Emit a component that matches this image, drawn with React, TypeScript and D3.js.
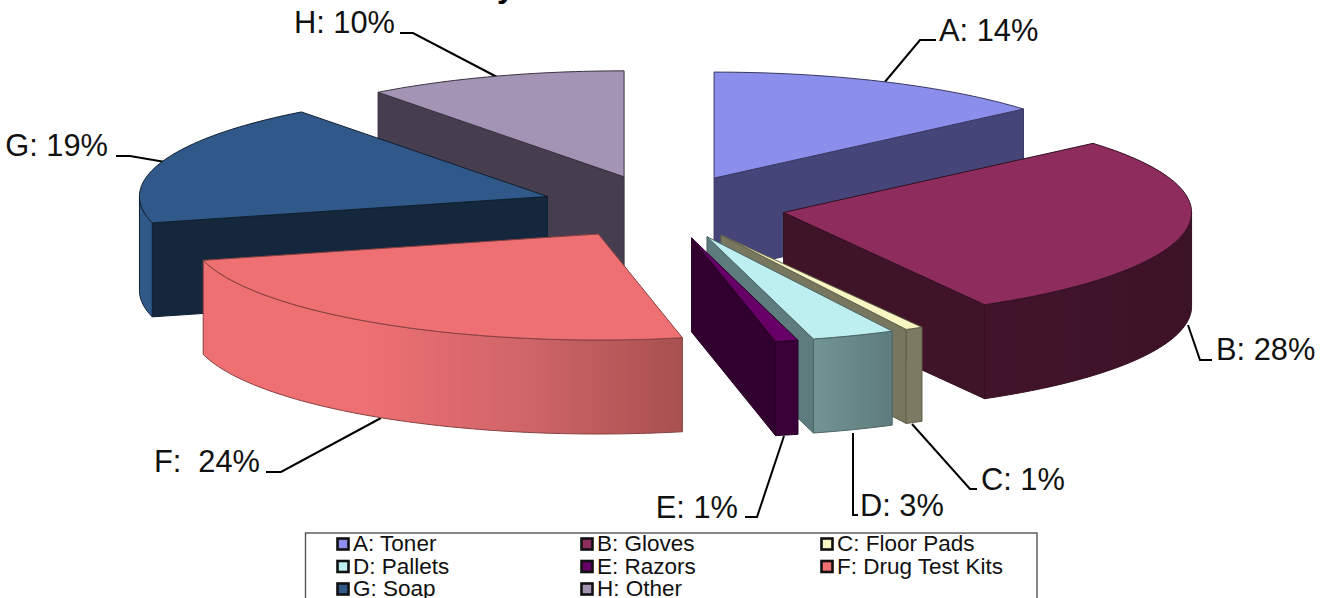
import React from "react";
import * as d3 from "d3";

const categories = ["A", "B", "C", "D", "E", "F", "G", "H"];
const names = ["Toner", "Gloves", "Floor Pads", "Pallets", "Razors", "Drug Test Kits", "Soap", "Other"];
const labelPercents = [14, 28, 1, 3, 1, 24, 19, 10];
const sliceShares = [13.7, 28.1, 0.7, 3.3, 0.9, 24.3, 18.7, 10.3];
const titleFragments = ["y", ",", ","];
const topColors = ["#8B8EEA", "#8E2C5E", "#F8F6C2", "#BDEEF0", "#660066", "#EE7073", "#30598A", "#A394B6"];
const wallColors = ["#46457A", "#3F1428", "#77775F", "#5E7C7D", "#32002F", "#A85050", "#14273D", "#463D4E"];
const rimStops = [
  ["#46457A", "#46457A"],
  ["#42142B", "#3C1227"],
  ["#7B7B63", "#7B7B63"],
  ["#729494", "#5E7C7D"],
  ["#3A0038", "#3A0038"],
  ["#EE7073", "#EE7073", "#D06568", "#A85050"],
  ["#30598A", "#30598A"],
  ["#46457A", "#46457A"],
];

const W = 1331, H = 598;
const cx = 663, cy = 207, rx = 408, ry = 106, depth = 94, explode = 0.3;

const leaderPoints: [number, number][][] = [
  [[884, 83], [920, 40], [936, 40]],
  [[1188, 325], [1200, 360], [1212, 360]],
  [[912, 424], [970, 489], [977, 489]],
  [[853, 433], [853, 515], [858, 515]],
  [[784, 436], [757, 517], [745, 517]],
  [[381, 418], [281, 472], [266, 472]],
  [[165, 162], [130, 156], [116, 156]],
  [[497, 77], [413, 33], [400, 33]],
];
const labelPos: [number, number, string][] = [
  [939, 41, "start"], [1216, 360, "start"], [981, 490, "start"], [860, 516, "start"],
  [738, 518, "end"], [260, 472, "end"], [108, 156, "end"], [395, 33, "end"],
];
const titlePos: [number, number][] = [[497, -3], [747, -5], [842, -5]];
const legendCols = [337, 581, 821];
const legendRows = [544, 566.5, 589];

const pie = d3.pie<number>().sort(null).startAngle(0).endAngle(2 * Math.PI);
const arcs = pie(sliceShares);
const line = d3.line<[number, number]>();

function pt(a: number, ox: number, oy: number, dy = 0): [number, number] {
  return [ox + rx * Math.sin(a), oy - ry * Math.cos(a) + dy];
}
function sweep(a0: number, a1: number, ox: number, oy: number, dy = 0) {
  const n = Math.max(2, Math.ceil(((a1 - a0) * 180) / Math.PI));
  return d3.range(n + 1).map((i) => pt(a0 + ((a1 - a0) * i) / n, ox, oy, dy));
}

const slices = arcs.map((d, i) => {
  const mid = (d.startAngle + d.endAngle) / 2;
  const ox = cx + explode * rx * Math.sin(mid);
  const oy = cy - explode * ry * Math.cos(mid);
  const top = [[ox, oy] as [number, number], ...sweep(d.startAngle, d.endAngle, ox, oy)];
  const walls: [number, number][][] = [];
  const s = pt(d.startAngle, ox, oy);
  const e = pt(d.endAngle, ox, oy);
  const quad = (p: [number, number]): [number, number][] => [
    [ox, oy], p, [p[0], p[1] + depth], [ox, oy + depth],
  ];
  if (s[0] < ox - 0.5) walls.push(quad(s));
  if (e[0] > ox + 0.5) walls.push(quad(e));
  const r0 = Math.max(d.startAngle, Math.PI / 2);
  const r1 = Math.min(d.endAngle, (3 * Math.PI) / 2);
  const rim = r1 > r0
    ? [...sweep(r0, r1, ox, oy), ...sweep(r0, r1, ox, oy, depth).reverse()]
    : null;
  const xs = rim ? (d3.extent(rim, (p) => p[0]) as [number, number]) : [0, 0];
  return { i, top, walls, rim, xs };
});
const drawOrder = [7, 0, 6, 1, 2, 3, 4, 5];

export default function App() {
  return (
    <svg
      width={W}
      height={H}
      viewBox={`0 0 ${W} ${H}`}
      style={{ position: "fixed", left: 0, top: 0, background: "#fff" }}
      fontFamily="'Liberation Sans', Arial, sans-serif"
    >
      <defs>
        {slices.map((s) =>
          s.rim ? (
            <linearGradient
              key={s.i}
              id={`rim${s.i}`}
              gradientUnits="userSpaceOnUse"
              x1={s.xs[0]}
              x2={s.xs[1]}
              y1={0}
              y2={0}
            >
              {rimStops[s.i].map((c, k) => (
                <stop key={k} offset={k / (rimStops[s.i].length - 1)} stopColor={c} />
              ))}
            </linearGradient>
          ) : null
        )}
      </defs>

      {titleFragments.map((t, i) => (
        <text key={i} x={titlePos[i][0]} y={titlePos[i][1]} fontSize={32} fontWeight="bold" fill="#000">
          {t}
        </text>
      ))}

      {leaderPoints.map((p, i) => (
        <path key={i} d={line(p) ?? ""} fill="none" stroke="#000" strokeWidth={2} />
      ))}

      {drawOrder.map((i) => {
        const s = slices[i];
        const edge = d3.color(wallColors[i])!.darker(0.6).formatHex();
        return (
          <g key={i} stroke={edge} strokeWidth={1} strokeLinejoin="round">
            {s.walls.map((w, k) => (
              <path key={k} d={(line(w) ?? "") + "Z"} fill={wallColors[i]} />
            ))}
            {s.rim && <path d={(line(s.rim) ?? "") + "Z"} fill={`url(#rim${i})`} />}
            <path d={(line(s.top) ?? "") + "Z"} fill={topColors[i]} />
          </g>
        );
      })}

      {categories.map((c, i) => (
        <text
          key={c}
          x={labelPos[i][0]}
          y={labelPos[i][1]}
          textAnchor={labelPos[i][2] as "start" | "end"}
          fontSize={30.8}
          fill="#111"
          style={{ whiteSpace: "pre" }}
        >
          {`${c}:${c === "F" ? "  " : " "}${labelPercents[i]}%`}
        </text>
      ))}

      <rect x={305.5} y={533} width={731.5} height={80} fill="#fff" stroke="#555" strokeWidth={1.4} />
      {categories.map((c, i) => {
        const col = i % 3;
        const row = Math.floor(i / 3);
        return (
          <g key={c}>
            <rect
              x={legendCols[col] + 0.5}
              y={legendRows[row] - 5.5}
              width={11}
              height={11}
              fill={topColors[i]}
              stroke="#111"
              strokeWidth={2.6}
            />
            <text x={legendCols[col] + 16} y={legendRows[row] + 7.3} fontSize={22.5} fill="#111">
              {`${c}: ${names[i]}`}
            </text>
          </g>
        );
      })}
    </svg>
  );
}
